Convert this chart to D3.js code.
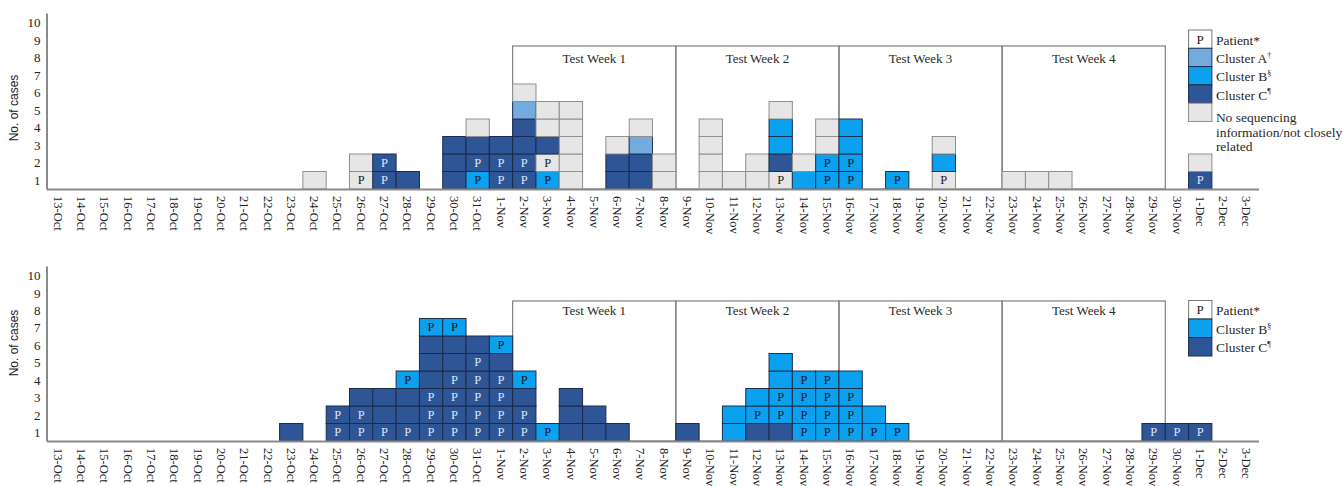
<!DOCTYPE html>
<html>
<head>
<meta charset="utf-8">
<script src="https://cdn.jsdelivr.net/npm/d3@7"></script>
<style>
  body { margin: 0; background: #fff; }
  svg { display: block; }
</style>
</head>
<body>
<div id="chart"></div>
<script>
var width = 1343;
var height = 486;

// one label per day on the x axis
var dates = ["13-Oct", "14-Oct", "15-Oct", "16-Oct", "17-Oct", "18-Oct", "19-Oct", "20-Oct",
    "21-Oct", "22-Oct", "23-Oct", "24-Oct", "25-Oct", "26-Oct", "27-Oct", "28-Oct", "29-Oct",
    "30-Oct", "31-Oct", "1-Nov", "2-Nov", "3-Nov", "4-Nov", "5-Nov", "6-Nov", "7-Nov", "8-Nov",
    "9-Nov", "10-Nov", "11-Nov", "12-Nov", "13-Nov", "14-Nov", "15-Nov", "16-Nov", "17-Nov",
    "18-Nov", "19-Nov", "20-Nov", "21-Nov", "22-Nov", "23-Nov", "24-Nov", "25-Nov", "26-Nov",
    "27-Nov", "28-Nov", "29-Nov", "30-Nov", "1-Dec", "2-Dec", "3-Dec"];

var yTicks = [1, 2, 3, 4, 5, 6, 7, 8, 9, 10];

var weekLabels = ["Test Week 1", "Test Week 2", "Test Week 3", "Test Week 4"];
var weekStarts = ["2-Nov", "9-Nov", "16-Nov", "23-Nov"];
var weekEnds = ["8-Nov", "15-Nov", "22-Nov", "29-Nov"];

// cases per day, stacked from the bottom
// A/B/C = cluster, N = no sequencing info, trailing P = patient
var topCases = [
    ["24-Oct", ["N"]],
    ["26-Oct", ["NP", "N"]],
    ["27-Oct", ["CP", "CP"]],
    ["28-Oct", ["C"]],
    ["30-Oct", ["C", "C", "C"]],
    ["31-Oct", ["BP", "CP", "C", "N"]],
    ["1-Nov", ["CP", "CP", "C"]],
    ["2-Nov", ["CP", "CP", "C", "C", "A", "N"]],
    ["3-Nov", ["BP", "NP", "C", "N", "N"]],
    ["4-Nov", ["N", "N", "N", "N", "N"]],
    ["6-Nov", ["C", "C", "N"]],
    ["7-Nov", ["C", "C", "A", "N"]],
    ["8-Nov", ["N", "N"]],
    ["10-Nov", ["N", "N", "N", "N"]],
    ["11-Nov", ["N"]],
    ["12-Nov", ["N", "N"]],
    ["13-Nov", ["NP", "C", "B", "B", "N"]],
    ["14-Nov", ["B", "N"]],
    ["15-Nov", ["BP", "BP", "N", "N"]],
    ["16-Nov", ["BP", "BP", "B", "B"]],
    ["18-Nov", ["BP"]],
    ["20-Nov", ["NP", "B", "N"]],
    ["23-Nov", ["N"]],
    ["24-Nov", ["N"]],
    ["25-Nov", ["N"]],
    ["1-Dec", ["CP", "N"]]
];

var bottomCases = [
    ["23-Oct", ["C"]],
    ["25-Oct", ["CP", "CP"]],
    ["26-Oct", ["CP", "CP", "C"]],
    ["27-Oct", ["CP", "C", "C"]],
    ["28-Oct", ["CP", "C", "C", "BP"]],
    ["29-Oct", ["CP", "CP", "CP", "C", "C", "C", "BP"]],
    ["30-Oct", ["CP", "CP", "CP", "CP", "C", "C", "BP"]],
    ["31-Oct", ["CP", "CP", "CP", "CP", "CP", "C"]],
    ["1-Nov", ["CP", "CP", "CP", "CP", "C", "BP"]],
    ["2-Nov", ["CP", "CP", "C", "BP"]],
    ["3-Nov", ["BP"]],
    ["4-Nov", ["C", "C", "C"]],
    ["5-Nov", ["C", "C"]],
    ["6-Nov", ["C"]],
    ["9-Nov", ["C"]],
    ["11-Nov", ["B", "B"]],
    ["12-Nov", ["C", "BP", "B"]],
    ["13-Nov", ["C", "BP", "BP", "B", "B"]],
    ["14-Nov", ["BP", "BP", "BP", "BP"]],
    ["15-Nov", ["BP", "BP", "BP", "BP"]],
    ["16-Nov", ["BP", "BP", "BP", "B"]],
    ["17-Nov", ["BP", "B"]],
    ["18-Nov", ["BP"]],
    ["29-Nov", ["CP"]],
    ["30-Nov", ["CP"]],
    ["1-Dec", ["CP"]]
];

// legend entries: code, label, superscript
var topLegend = [["P", "Patient*", ""], ["A", "Cluster A", "\u2020"], ["B", "Cluster B", "\u00a7"],
    ["C", "Cluster C", "\u00b6"], ["N", "No sequencing", ""]];
var bottomLegend = [["P", "Patient*", ""], ["B", "Cluster B", "\u00a7"], ["C", "Cluster C", "\u00b6"]];
var noSeqLines = ["No sequencing", "information/not closely", "related"];

var fills = {A: "#73abdf", B: "#0ba1ee", C: "#2e5596", N: "#e6e6e6", P: "#ffffff"};
var strokes = {A: "#243659", B: "#1d3050", C: "#1b2b4c", N: "#8f8f8f", P: "#777777"};
var pColors = {A: "#1b2b4c", B: "#0c1a33", C: "#dce4f4", N: "#222222", P: "#222222"};

var serif = "'Liberation Serif', 'DejaVu Serif', serif";

var svg = d3.select("#chart").append("svg")
    .attr("width", width)
    .attr("height", height)
    .attr("viewBox", [0, 0, width, height]);

var x = d3.scaleBand()
    .domain(dates)
    .range([46.5, 1258.5])
    .paddingInner(0)
    .paddingOuter(0);

function drawPanel(cfg) {
    var g = svg.append("g");

    var y = d3.scaleLinear()
        .domain([0, 10])
        .range([cfg.baseline, cfg.baseline - 175]);

    // test week boxes
    weekLabels.forEach(function (label, i) {
        var x0 = x(weekStarts[i]);
        var x1 = x(weekEnds[i]) + x.bandwidth();
        g.append("rect")
            .attr("x", x0)
            .attr("y", cfg.weekTop)
            .attr("width", x1 - x0)
            .attr("height", cfg.baseline - cfg.weekTop)
            .attr("fill", "none")
            .attr("stroke", "#7f7f7f")
            .attr("stroke-width", 1.2);
        g.append("text")
            .attr("x", (x0 + x1) / 2)
            .attr("y", cfg.weekTop + cfg.weekLabelDy)
            .attr("text-anchor", "middle")
            .attr("dominant-baseline", "central")
            .style("font-family", serif)
            .style("font-size", "13px")
            .attr("fill", "#2b2b2b")
            .text(label);
    });

    // flatten stacks into cells
    var cells = [];
    cfg.cases.forEach(function (c) {
        c[1].forEach(function (code, i) {
            cells.push({date: c[0], level: i, cat: code[0], patient: code.length > 1});
        });
    });

    var cell = g.selectAll(".cell")
        .data(cells)
        .join("g")
        .attr("class", "cell");

    cell.append("rect")
        .attr("x", function (d) { return x(d.date); })
        .attr("y", function (d) { return y(d.level + 1); })
        .attr("width", x.bandwidth())
        .attr("height", function (d) { return y(d.level) - y(d.level + 1); })
        .attr("fill", function (d) { return fills[d.cat]; })
        .attr("stroke", function (d) { return strokes[d.cat]; })
        .attr("stroke-width", 1);

    cell.filter(function (d) { return d.patient; })
        .append("text")
        .attr("x", function (d) { return x(d.date) + x.bandwidth() / 2; })
        .attr("y", function (d) { return y(d.level + 0.5); })
        .attr("text-anchor", "middle")
        .attr("dominant-baseline", "central")
        .style("font-family", serif)
        .style("font-size", "12.5px")
        .attr("fill", function (d) { return pColors[d.cat]; })
        .text("P");

    // axes
    var xAxis = g.append("g")
        .attr("transform", "translate(0," + cfg.baseline + ")")
        .call(d3.axisBottom(x).tickSize(0).tickSizeOuter(0));
    xAxis.select(".domain").attr("stroke", "#8a8a8a").attr("stroke-width", 2);
    xAxis.selectAll("text")
        .attr("transform", "rotate(90)")
        .attr("x", 7)
        .attr("y", 0)
        .attr("dy", "0.35em")
        .attr("text-anchor", "start")
        .attr("fill", "#222")
        .style("font-family", serif)
        .style("font-size", "12.5px");

    var yAxis = g.append("g")
        .attr("transform", "translate(46.5,0)")
        .call(d3.axisLeft(y.copy().domain([0, 10.05]).range([cfg.baseline, cfg.axisTop]))
            .tickValues(yTicks.map(function (v) { return v - 0.5; }))
            .tickFormat(function (v) { return v + 0.5; })
            .tickSize(0)
            .tickSizeOuter(0)
            .tickPadding(6));
    yAxis.select(".domain").attr("stroke", "#8a8a8a").attr("stroke-width", 2);
    yAxis.selectAll("text")
        .attr("fill", "#222")
        .style("font-family", serif)
        .style("font-size", "13px");

    g.append("text")
        .attr("transform", "translate(14," + cfg.titleY + ") rotate(-90)")
        .attr("text-anchor", "middle")
        .attr("dominant-baseline", "central")
        .style("font-family", "'Liberation Sans', Arial, sans-serif")
        .style("font-size", "12px")
        .attr("fill", "#222")
        .text("No. of cases");

    // legend
    var lx = x("1-Dec");
    cfg.legend.forEach(function (item, i) {
        var ly = cfg.legendTop + i * cfg.legendRow;
        g.append("rect")
            .attr("x", lx)
            .attr("y", ly)
            .attr("width", x.bandwidth())
            .attr("height", cfg.legendRow)
            .attr("fill", fills[item[0]])
            .attr("stroke", strokes[item[0]])
            .attr("stroke-width", 1);
        if (item[0] === "P") {
            g.append("text")
                .attr("x", lx + x.bandwidth() / 2)
                .attr("y", ly + cfg.legendRow / 2)
                .attr("text-anchor", "middle")
                .attr("dominant-baseline", "central")
                .style("font-family", serif)
                .style("font-size", "13px")
                .attr("fill", "#222")
                .text("P");
        }
        var lines = item[0] === "N" ? noSeqLines : [item[1]];
        lines.forEach(function (line, j) {
            var t = g.append("text")
                .attr("x", lx + x.bandwidth() + 4)
                .attr("y", ly + cfg.legendRow / 2 + 1 + (item[0] === "N" ? 4 + j * 14.8 : 0))
                .attr("dominant-baseline", "central")
                .style("font-family", serif)
                .style("font-size", "13.5px")
                .attr("fill", "#2b2b2b")
                .text(line);
            if (item[2]) {
                t.append("tspan")
                    .attr("dy", "-0.45em")
                    .style("font-size", "8px")
                    .text(item[2]);
            }
        });
    });
}

drawPanel({
    cases: topCases,
    legend: topLegend,
    baseline: 189,
    axisTop: 13,
    weekTop: 46,
    weekLabelDy: 12,
    legendTop: 30,
    legendRow: 18.3,
    titleY: 108
});

drawPanel({
    cases: bottomCases,
    legend: bottomLegend,
    baseline: 441,
    axisTop: 266,
    weekTop: 301,
    weekLabelDy: 9,
    legendTop: 300.5,
    legendRow: 18.5,
    titleY: 343
});
</script>
</body>
</html>
